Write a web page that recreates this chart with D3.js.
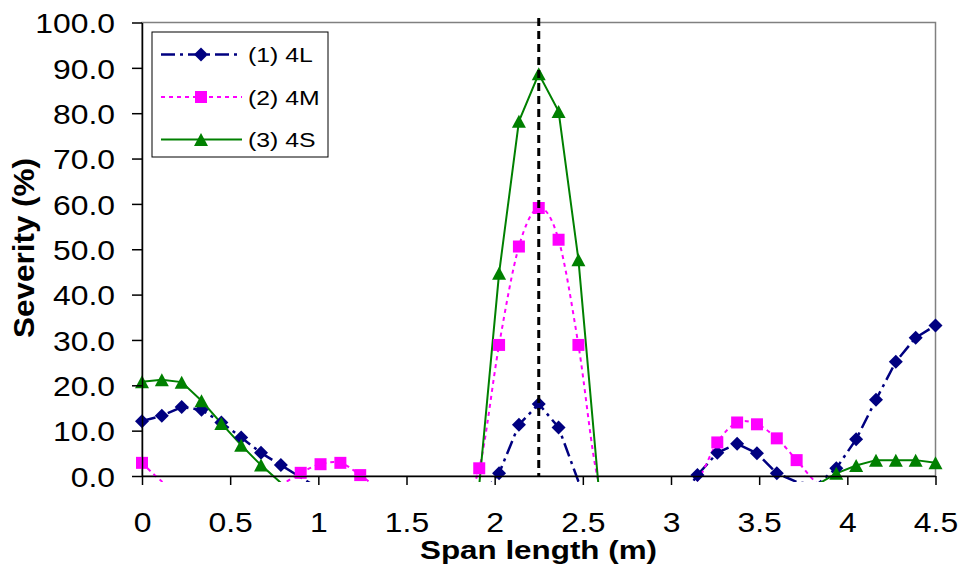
<!DOCTYPE html>
<html lang="en">
<head>
    <meta charset="UTF-8">
    <title>Severity along span</title>
    <style>
        body {
            margin: 0;
            background: #fff;
            font-family: "Liberation Sans", Arial, sans-serif;
        }
        .axis path, .axis line {
            stroke: #000;
            stroke-width: 1.5px;
        }
        .axis text {
            font-size: 27px;
            fill: #000;
        }
        .axis-label {
            font-size: 25px;
            font-weight: bold;
        }
    </style>
</head>
<body>
    <div id="chart"></div>

    <script src="https://d3js.org/d3.v7.min.js"></script>
    <script>
        // span positions (m)
        const spanLength = [0, 0.1125, 0.225, 0.3375, 0.45, 0.5625, 0.675, 0.7875, 0.9, 1.0125,
            1.125, 1.2375, 1.35, 1.4625, 1.575, 1.6875, 1.8, 1.9125, 2.025, 2.1375,
            2.25, 2.3625, 2.475, 2.5875, 2.7, 2.8125, 2.925, 3.0375, 3.15, 3.2625,
            3.375, 3.4875, 3.6, 3.7125, 3.825, 3.9375, 4.05, 4.1625, 4.275, 4.3875, 4.5];

        // severity (%) - values below zero fall outside the axis and are clipped
        const sev4L = [12.1, 13.3, 15.2, 14.6, 11.8, 8.5, 5.1, 2.4, -0.3, -3,
            -8, -8, -8, -8, -8, -8, -8, -5, 0.6, 11.3,
            15.9, 10.7, -1.2, -6, -8, -8, -8, -6, 0.2, 5.1,
            7.1, 5.0, 0.6, -1.3, -2, 1.7, 8.1, 16.8, 25.2, 30.5, 33.2];
        const sev4M = [2.9, -1.2, -4, -5, -5, -5, -4, -2, 0.7, 2.6,
            2.9, 0.2, -3, -5, -6, -6, -5, 1.7, 28.9, 50.6,
            59.1, 52.1, 28.9, -1, -5, -6, -5, -4, -1, 7.4,
            11.8, 11.4, 8.3, 3.5, -1.5, -4, -5, -5, -5, -5, -5];
        const sev4S = [20.8, 21.2, 20.7, 16.6, 11.6, 6.8, 2.4, -1.5, -5, -6,
            -6, -6, -6, -6, -6, -6, -5, -2, 44.7, 78.2,
            88.7, 80.4, 47.7, -1.5, -5, -6, -6, -6, -6, -6,
            -6, -6, -6, -5, -2, 0.6, 2.3, 3.5, 3.5, 3.5, 2.9];

        const seriesNames = ["(1) 4L", "(2) 4M", "(3) 4S"];
        const xTicks = [0, 0.5, 1, 1.5, 2, 2.5, 3, 3.5, 4, 4.5];
        const yTicks = [0, 10, 20, 30, 40, 50, 60, 70, 80, 90, 100];
        const markerLine = 2.25;

        // only the 4M series is drawn smoothed in the original
        const styles = [
            { color: "#000080", dash: "14,5,3,5", width: 2.5, marker: "diamond", curve: d3.curveLinear },
            { color: "#FF00FF", dash: "4,4", width: 2, marker: "square", curve: d3.curveCardinal.tension(0) },
            { color: "#008000", dash: null, width: 2, marker: "triangle", curve: d3.curveLinear }
        ];

        function markerPath(type) {
            if (type === "diamond") return "M0,-7L7,0L0,7L-7,0Z";
            if (type === "square") return "M-6,-6H6V6H-6Z";
            return "M0,-6.5L7,6.5L-7,6.5Z";
        }

        function createChart() {
            const W = 965, H = 577;
            const margin = { top: 22.5, right: 29.5, bottom: 101, left: 142 };
            const sx = 1.18; // text in the source is stretched horizontally

            const svg = d3.select("#chart")
                .append("svg")
                .attr("width", W)
                .attr("height", H);

            svg.append("rect").attr("width", W).attr("height", H).attr("fill", "#fff");

            const x = d3.scaleLinear()
                .domain([0, 4.5])
                .range([margin.left, W - margin.right]);
            const y = d3.scaleLinear()
                .domain([0, 100])
                .range([H - margin.bottom, margin.top]);

            // plot area border (gray)
            svg.append("rect")
                .attr("x", x(0)).attr("y", y(100))
                .attr("width", x(4.5) - x(0)).attr("height", y(0) - y(100))
                .attr("fill", "none")
                .attr("stroke", "#808080")
                .attr("stroke-width", 1.5);

            // clip lines to the plot (Excel lets them run a few px under the axis)
            svg.append("clipPath").attr("id", "plotClip")
                .append("rect")
                .attr("x", x(0)).attr("y", y(100))
                .attr("width", x(4.5) - x(0)).attr("height", y(0) - y(100) + 6);

            const all = [sev4L, sev4M, sev4S].map(vals =>
                vals.map((v, i) => ({ x: spanLength[i], y: v })));

            all.forEach((pts, s) => {
                const line = d3.line()
                    .x(d => x(d.x))
                    .y(d => y(d.y))
                    .curve(styles[s].curve);
                svg.append("path")
                    .datum(pts)
                    .attr("clip-path", "url(#plotClip)")
                    .attr("fill", "none")
                    .attr("stroke", styles[s].color)
                    .attr("stroke-width", styles[s].width)
                    .attr("stroke-dasharray", styles[s].dash)
                    .attr("d", line);
            });

            all.forEach((pts, s) => {
                svg.selectAll(".m" + s)
                    .data(pts.filter(d => d.y >= 0))
                    .enter()
                    .append("path")
                    .attr("class", "m" + s)
                    .attr("transform", d => `translate(${x(d.x)},${y(d.y)})`)
                    .attr("d", markerPath(styles[s].marker))
                    .attr("fill", styles[s].color);
            });

            // axes
            const yAxis = svg.append("g")
                .attr("class", "axis")
                .attr("transform", `translate(${x(0)},0)`)
                .call(d3.axisLeft(y).tickValues(yTicks).tickSize(10).tickSizeOuter(0)
                    .tickFormat(d3.format(".1f")));
            yAxis.selectAll("text")
                .attr("x", -27 / sx)
                .attr("dy", "0.38em")
                .attr("transform", `scale(${sx},1)`);

            const xAxis = svg.append("g")
                .attr("class", "axis")
                .attr("transform", `translate(0,${y(0)})`)
                .call(d3.axisBottom(x).tickValues(xTicks).tickSize(9).tickSizeOuter(0)
                    .tickFormat(d => d));
            xAxis.selectAll("text")
                .attr("y", 37)
                .attr("transform", `scale(${sx},1)`);

            // vertical dashed marker
            svg.append("line")
                .attr("x1", x(markerLine)).attr("x2", x(markerLine))
                .attr("y1", y(101)).attr("y2", y(0))
                .attr("stroke", "#000")
                .attr("stroke-width", 3)
                .attr("stroke-dasharray", "8,5");

            // axis titles
            svg.append("text")
                .attr("class", "axis-label")
                .attr("x", 538.5)
                .attr("y", 559)
                .attr("text-anchor", "middle")
                .attr("textLength", 237)
                .attr("lengthAdjust", "spacingAndGlyphs")
                .text("Span length (m)");

            svg.append("text")
                .attr("class", "axis-label")
                .attr("transform", "translate(33.5,248) rotate(-90) scale(1,1.18)")
                .attr("text-anchor", "middle")
                .attr("font-size", "24.5px")
                .attr("textLength", 180)
                .attr("lengthAdjust", "spacingAndGlyphs")
                .text("Severity (%)");

            // legend
            const lg = svg.append("g").attr("transform", "translate(152,32)");
            lg.append("rect")
                .attr("width", 176).attr("height", 125)
                .attr("fill", "#fff")
                .attr("stroke", "#000")
                .attr("stroke-width", 1);

            seriesNames.forEach((name, s) => {
                const row = lg.append("g").attr("transform", `translate(0,${22.5 + s * 42.5})`);
                row.append("line")
                    .attr("x1", 9).attr("x2", 90)
                    .attr("stroke", styles[s].color)
                    .attr("stroke-width", styles[s].width)
                    .attr("stroke-dasharray", styles[s].dash);
                row.append("path")
                    .attr("transform", "translate(49,0)")
                    .attr("d", markerPath(styles[s].marker))
                    .attr("fill", styles[s].color);
                row.append("text")
                    .attr("transform", `translate(96,7.5) scale(${sx},1)`)
                    .attr("font-size", "21px")
                    .text(name);
            });
        }

        createChart();
    </script>
</body>
</html>
